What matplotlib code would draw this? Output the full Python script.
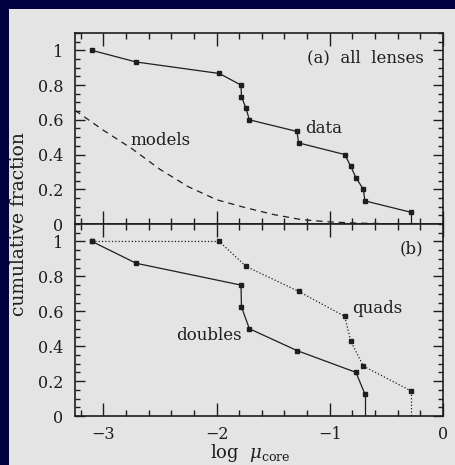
import numpy as np
import matplotlib.pyplot as plt
from matplotlib.patches import Rectangle
from matplotlib.ticker import MultipleLocator

# all 15 lenses (panel a)
all_x = [-3.10, -2.71, -1.976, -1.784, -1.78, -1.74, -1.71, -1.29, -1.275,
         -0.868, -0.815, -0.769, -0.704, -0.689, -0.28]
all_y = [1.0, 0.933, 0.867, 0.8, 0.733, 0.667, 0.6, 0.533, 0.467,
         0.4, 0.333, 0.267, 0.2, 0.133, 0.067]

# model prediction (dashed)
model_x = [-3.25, -3.0, -2.75, -2.5, -2.25, -2.0, -1.75, -1.5, -1.25, -1.0,
           -0.75, -0.5, -0.25]
model_y = [0.655, 0.54, 0.435, 0.315, 0.215, 0.14, 0.095, 0.055, 0.025,
           0.012, 0.005, 0.002, 0.0]

# panel b
doubles_x = [-3.10, -2.71, -1.784, -1.78, -1.71, -1.29, -0.769, -0.689]
doubles_y = [1.0, 0.875, 0.75, 0.625, 0.5, 0.375, 0.25, 0.125]
quads_x = [-3.10, -1.976, -1.74, -1.275, -0.868, -0.815, -0.704, -0.28]
quads_y = [1.0, 1.0, 0.857, 0.714, 0.571, 0.429, 0.286, 0.143]

plt.rcParams['font.family'] = 'DejaVu Serif'
plt.rcParams['mathtext.fontset'] = 'dejavuserif'
ink = '#1e1e1e'
panel = '#e4e4e4'

fig = plt.figure(figsize=(4.55, 4.65), dpi=100, facecolor='#00003f')
fig.patches.append(Rectangle((9 / 455, 0), 1, 1 - 9 / 465, transform=fig.transFigure,
                             facecolor=panel, edgecolor='none', zorder=-5))

L, W = 75 / 455, 368 / 455
ax1 = fig.add_axes([L, 1 - 224 / 465, W, 191 / 465])
ax2 = fig.add_axes([L, 1 - 416 / 465, W, 192 / 465])

for ax in (ax1, ax2):
    ax.set_facecolor(panel)
    ax.set_xlim(-3.25, 0)
    ax.set_ylim(0, 1.1)
    ax.xaxis.set_major_locator(MultipleLocator(1))
    ax.xaxis.set_minor_locator(MultipleLocator(0.2))
    ax.yaxis.set_major_locator(MultipleLocator(0.2))
    ax.yaxis.set_minor_locator(MultipleLocator(0.05))
    ax.tick_params(which='both', direction='in', top=True, right=True,
                   colors=ink, labelsize=11.5, width=1)
    ax.tick_params(axis='x', which='major', length=9.5, pad=7)
    ax.tick_params(axis='x', which='minor', length=4.5)
    ax.tick_params(axis='y', which='major', length=7, pad=8.5)
    ax.tick_params(axis='y', which='minor', length=3.5)
    for s in ax.spines.values():
        s.set_color(ink)
        s.set_linewidth(1.2)
    ax.set_yticks([0, 0.2, 0.4, 0.6, 0.8, 1.0])
    ax.set_yticklabels(['0', '0.2', '0.4', '0.6', '0.8', '1'])

ax1.tick_params(axis='x', labelbottom=False)

# panel a
ax1.plot(all_x, all_y, '-s', color=ink, lw=0.9, ms=3)
ax1.plot([all_x[-1], all_x[-1]], [all_y[-1], 0], '-', color=ink, lw=0.9)
ax1.plot(model_x, model_y, '--', color=ink, lw=0.9, dashes=(5, 4))
ax1.text(0.947, 0.87, '(a)  all  lenses', transform=ax1.transAxes, ha='right',
         va='center', fontsize=12, color=ink)
ax1.text(-1.22, 0.55, 'data', fontsize=12, color=ink, va='center')
ax1.text(-2.76, 0.48, 'models', fontsize=12, color=ink, va='center')

# panel b
ax2.plot(doubles_x, doubles_y, '-s', color=ink, lw=0.9, ms=3)
ax2.plot([doubles_x[-1], doubles_x[-1]], [doubles_y[-1], 0], '-', color=ink, lw=0.9)
ax2.plot(quads_x, quads_y, ':s', color=ink, lw=0.9, ms=3)
ax2.plot([quads_x[-1], quads_x[-1]], [quads_y[-1], 0], ':', color=ink, lw=0.9)
ax2.text(0.947, 0.87, '(b)', transform=ax2.transAxes, ha='right',
         va='center', fontsize=12, color=ink)
ax2.text(-0.80, 0.615, 'quads', fontsize=12, color=ink, va='center')
ax2.text(-2.36, 0.46, 'doubles', fontsize=12, color=ink, va='center')

ax2.set_xticks([-3, -2, -1, 0])
ax2.set_xticklabels(['\u22123', '\u22122', '\u22121', '0'])
ax2.set_xlabel(r'log  $\mu_{\rm core}$', fontsize=13, color=ink)
ax2.xaxis.set_label_coords((250 - 75) / 368, -0.135)

fig.text(19 / 455, 1 - 224 / 465, 'cumulative fraction', rotation=90,
         ha='center', va='center', fontsize=13.5, color=ink)

fig.savefig('out.png', dpi=100, facecolor=fig.get_facecolor())
